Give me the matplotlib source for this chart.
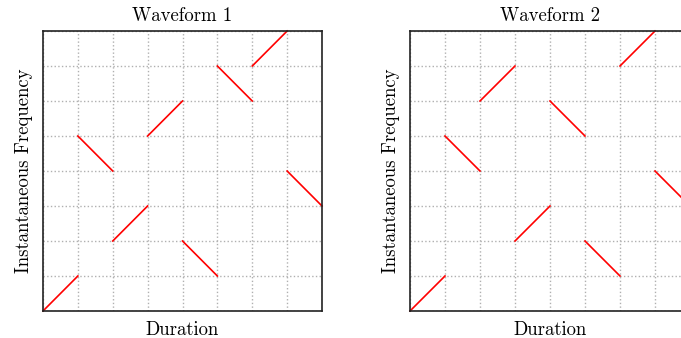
import matplotlib.pyplot as plt

# frequency level at start and end of each time step (grid units)
steps = [0, 1, 2, 3, 4, 5, 6, 7]
wave1_start = [0, 5, 2, 5, 2, 7, 7, 4]
wave1_end = [1, 4, 3, 6, 1, 6, 8, 3]
wave2_start = [0, 5, 6, 2, 6, 2, 7, 4]
wave2_end = [1, 4, 7, 3, 5, 1, 8, 3]

plt.rcParams['font.family'] = 'cmr10'
plt.rcParams['axes.formatter.use_mathtext'] = True

fig = plt.figure(figsize=(6.81, 3.38), dpi=100)
W, H = 681, 338
ax1 = fig.add_axes([43 / W, 27 / H, 279 / W, 280 / H])
ax2 = fig.add_axes([410 / W, 27 / H, 280 / W, 280 / H])

for ax, starts, ends, title in [(ax1, wave1_start, wave1_end, 'Waveform 1'),
                                (ax2, wave2_start, wave2_end, 'Waveform 2')]:
    for t, a, b in zip(steps, starts, ends):
        ax.plot([t, t + 1], [a, b], color='red', lw=1.2, clip_on=False)
    ax.set_xlim(0, 8)
    ax.set_ylim(0, 8)
    ax.set_xticks(range(9))
    ax.set_yticks(range(9))
    ax.tick_params(length=0, labelbottom=False, labelleft=False)
    ax.grid(True, color='#b0b0b0', linestyle=':', lw=1.0)
    for s in ax.spines.values():
        s.set_linewidth(1.2)
        s.set_color('#222222')
    ax.set_title(title, fontsize=13.5, pad=7)
    ax.set_xlabel('Duration', fontsize=13.5, labelpad=7)
    ax.set_ylabel('Instantaneous Frequency', fontsize=13.5, labelpad=7)

fig.savefig('out.png', dpi=100)
